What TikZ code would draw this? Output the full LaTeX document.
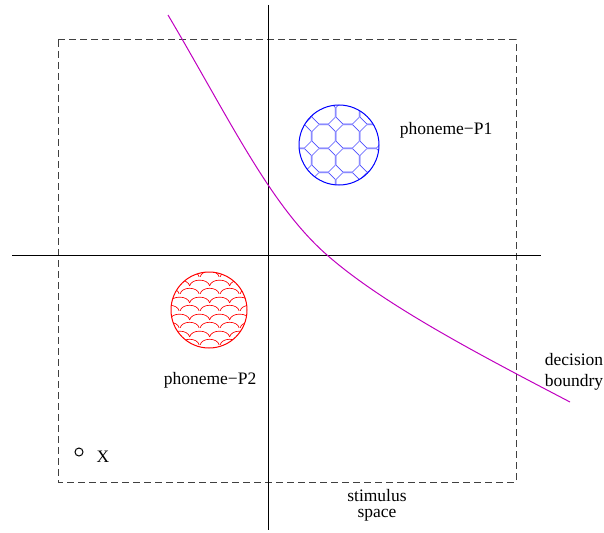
\documentclass[tikz,border=0pt]{standalone}
\usepackage{fontspec}
\setmainfont{Liberation Serif}
\usepackage{xcolor}
\usepackage{tikz}
\usetikzlibrary{positioning,patterns}
\definecolor{boundcol}{RGB}{192,0,192}

% octagon tiling for the first class
\pgfdeclarepatternformonly{octagons}{\pgfpointorigin}{\pgfqpoint{24pt}{24pt}}{\pgfqpoint{24pt}{24pt}}{%
  \pgfsetlinewidth{0.7pt}
  \pgfpathmoveto{\pgfqpoint{0pt}{7pt}}
  \pgfpathlineto{\pgfqpoint{0pt}{17pt}}
  \pgfpathlineto{\pgfqpoint{7pt}{24pt}}
  \pgfpathlineto{\pgfqpoint{17pt}{24pt}}
  \pgfpathlineto{\pgfqpoint{24pt}{17pt}}
  \pgfpathlineto{\pgfqpoint{24pt}{7pt}}
  \pgfpathlineto{\pgfqpoint{17pt}{0pt}}
  \pgfpathlineto{\pgfqpoint{7pt}{0pt}}
  \pgfpathclose
  \pgfusepath{stroke}}

% fish scales for the second class
\pgfdeclarepatternformonly{scales}{\pgfpointorigin}{\pgfqpoint{20pt}{17pt}}{\pgfqpoint{20pt}{17pt}}{%
  \pgfsetlinewidth{0.7pt}
  \pgfpathmoveto{\pgfqpoint{0pt}{0pt}}
  \pgfpathcurveto{\pgfqpoint{2pt}{8pt}}{\pgfqpoint{18pt}{8pt}}{\pgfqpoint{20pt}{0pt}}
  \pgfpathmoveto{\pgfqpoint{-10pt}{8.5pt}}
  \pgfpathcurveto{\pgfqpoint{-8pt}{16.5pt}}{\pgfqpoint{8pt}{16.5pt}}{\pgfqpoint{10pt}{8.5pt}}
  \pgfpathmoveto{\pgfqpoint{10pt}{8.5pt}}
  \pgfpathcurveto{\pgfqpoint{12pt}{16.5pt}}{\pgfqpoint{28pt}{16.5pt}}{\pgfqpoint{30pt}{8.5pt}}
  \pgfusepath{stroke}}

\begin{document}
\begin{tikzpicture}[x=1pt, y=-1pt, line width=1pt,
  every node/.style={font=\fontsize{17.5}{21}\selectfont, inner sep=0pt},
  classA/.style={circle, draw=blue, minimum size=80pt, pattern=octagons, pattern color=blue!70},
  classB/.style={circle, draw=red, minimum size=76pt, pattern=scales, pattern color=red},
  sample/.style={circle, draw, minimum size=8pt}]
\useasboundingbox (0,0) rectangle (604,532);
\draw[black!75, dash pattern=on 7pt off 4pt] (58,40) rectangle (516,482);
\coordinate (yt) at (268,5); \coordinate (yb) at (268,530);
\coordinate (xl) at (12,255); \coordinate (xr) at (541,255);
\draw (yt) -- (yb);
\draw (xl) -- (xr);
\node[classA] (p1) at (339,145) {};
\node[classB] (p2) at (209,310) {};
\node[anchor=base] (p1lbl) at (446,134) {phoneme−P1};
\node[anchor=base] (p2lbl) at (210,384) {phoneme−P2};
\node[sample] (x) at (79,452) {};
\node[anchor=base] (xlbl) at (103,462) {X};
% decision boundary
\coordinate (bs) at (168,15); \coordinate (bm) at (327,255); \coordinate (be) at (570,402);
\draw[boundcol] (bs) .. controls (230,120) and (270,205) .. (bm)
                     .. controls (384,305) and (480,355) .. (be);
\node[align=center] (dec) at (574,372) {decision\\boundry};
\node[align=center, font=\fontsize{17.5}{16}\selectfont] (stim) at (377,505) {stimulus\\space};
\end{tikzpicture}
\end{document}
